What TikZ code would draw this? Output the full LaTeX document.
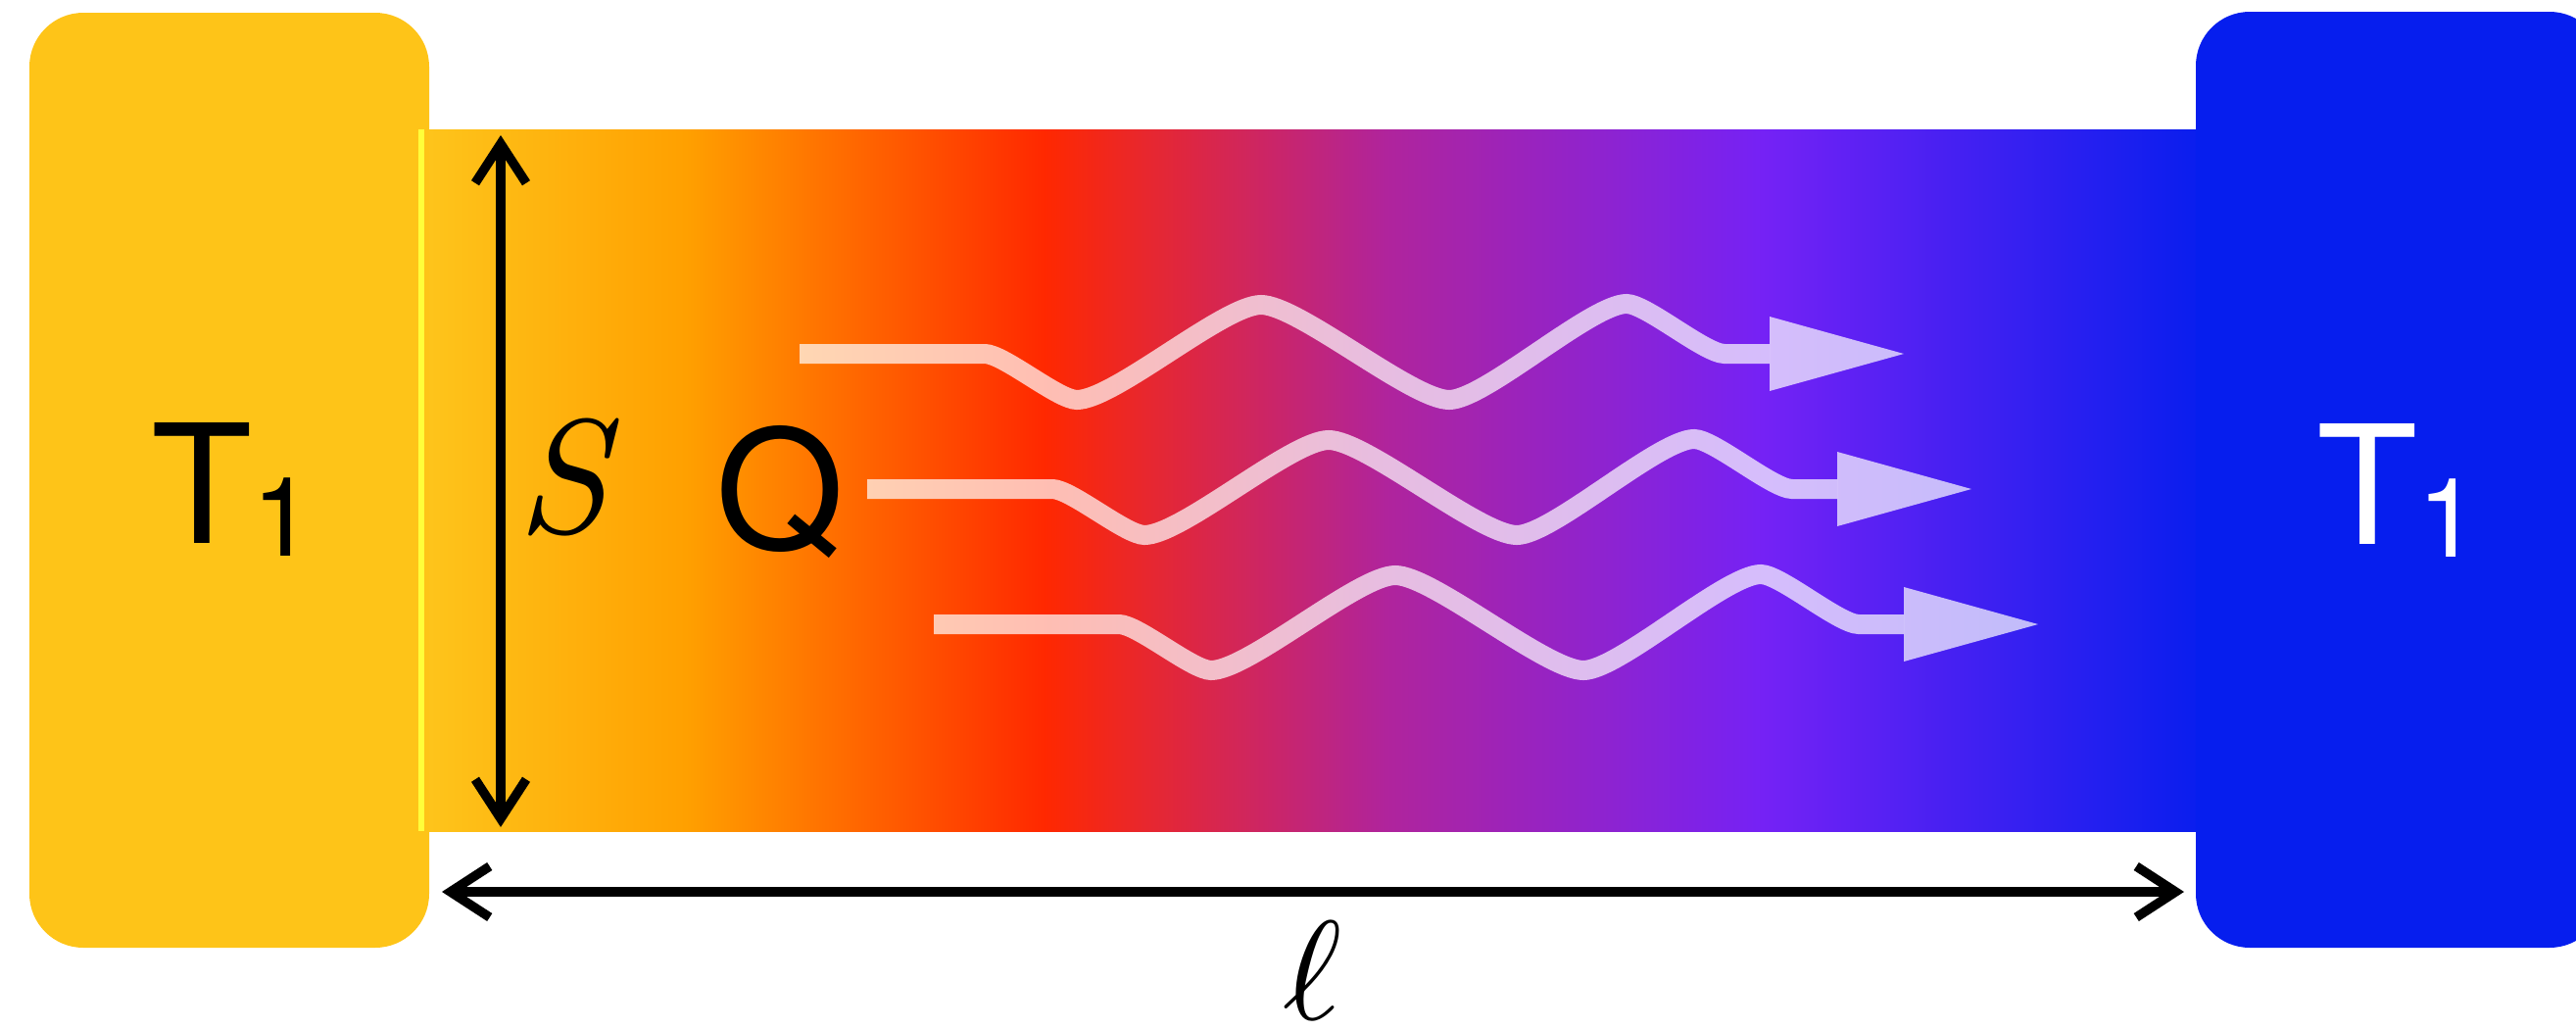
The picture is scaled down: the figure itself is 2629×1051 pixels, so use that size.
\documentclass[tikz,border=0pt]{standalone}
\usepackage{fontspec}
\newfontfamily\helv{TeX Gyre Heros}
\usepackage{tikz}
\usetikzlibrary{arrows.meta}
\usetikzlibrary{positioning}
\definecolor{hotblock}{HTML}{FEC418}
\definecolor{coldblock}{HTML}{061EEE}
\definecolor{barA}{HTML}{FEC41B}
\definecolor{barB}{HTML}{FFA000}
\definecolor{barC}{HTML}{FF2800}
\definecolor{barD}{HTML}{B0249C}
\definecolor{barE}{HTML}{7522F5}
\definecolor{barF}{HTML}{0A1EEE}
\definecolor{contact}{HTML}{FFFF3A}
\pgfdeclarehorizontalshading{barshade}{100bp}{color(0bp)=(barA); color(25bp)=(barA);
  color(32.27bp)=(barB); color(42.42bp)=(barC); color(52.07bp)=(barD);
  color(62.72bp)=(barE); color(75bp)=(barF); color(100bp)=(barF)}
\tikzset{>={Straight Barb[length=4mm,width=5.2mm]},
  dimline/.style={<->, line width=0.095cm, black},
  templabel/.style={font=\helv\fontsize{48}{48}\selectfont, inner sep=0pt, anchor=base west},
  mathlabel/.style={inner sep=0pt},
  raystroke/.style={draw=white, opacity=0.7, line width=0.2cm},
  pics/heatray/.style={code={
    \draw[raystroke] (0,0) -- (189,0)
      .. controls (208,0) and (264,47) .. (283,47)
      .. controls (321,47) and (433,-50) .. (471,-50)
      .. controls (509,-50) and (625,47) .. (663,47)
      .. controls (699,47) and (808,-51) .. (844,-51)
      .. controls (864,-51) and (924,0) .. (944,0) -- (990,0);
    \fill[white, opacity=0.7] (990,-38) -- (1127,0) -- (990,38) -- cycle;
  }}}

\begin{document}
\begin{tikzpicture}[x=0.01cm, y=-0.01cm]
  \useasboundingbox (0,0) rectangle (2629,1051);
  % reservoirs
  \fill[hotblock, rounded corners=0.55cm] (30,13) rectangle (438,967);
  \begin{scope}
    \clip (0,0) rectangle (2629,1051);
    \fill[coldblock, rounded corners=0.55cm] (2241,12) rectangle (2657,967);
  \end{scope}
  % rod
  \shade[shading=barshade] (438,132) rectangle (2241,848);
  \draw[contact, line width=0.06cm] (430,132) -- (430,848);

  % cross section
  \coordinate (sTop) at (511,138);
  \coordinate (sBot) at (511,844);
  \draw[dimline] (sTop) -- (sBot);
  % length
  \coordinate (lenL) at (451,910);
  \coordinate (lenR) at (2229,910);
  \draw[dimline] (lenL) -- (lenR) node[midway, below=0.26cm, mathlabel] (ell) {\scalebox{4.1}{$\ell$}};

  \node[templabel] (hotT) at (154,554) {T\raisebox{-0.13cm}{\fontsize{32}{32}\selectfont 1}};
  \node[templabel, text=white] (coldT) at (2364,555) {T\raisebox{-0.13cm}{\fontsize{32}{32}\selectfont 1}};
  \node[mathlabel, anchor=base] (area) at (574,543) {\scalebox{4.7}{\itshape S}};
  \node[templabel, anchor=base] (heat) at (796,560) {Q};

  % heat flow
  \pic at (816,361) {heatray};
  \pic at (885,499) {heatray};
  \pic at (953,637) {heatray};
\end{tikzpicture}
\end{document}
